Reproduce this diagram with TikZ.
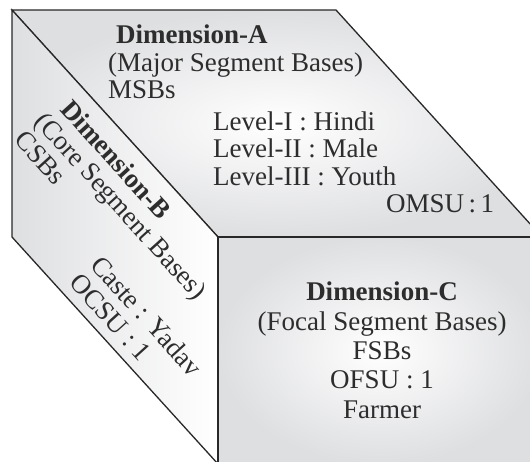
\documentclass[tikz,border=0pt]{standalone}
\usepackage{fontspec}
\setmainfont{Liberation Serif}
\definecolor{edgeink}{RGB}{40,40,40}
\definecolor{textink}{RGB}{45,45,45}
\definecolor{facegray}{RGB}{222,223,225}

\begin{document}
\begin{tikzpicture}[x=1pt,y=-1pt,
 face/.style={draw=edgeink,line width=1.3pt,line join=miter},
 txt/.style={anchor=base west,inner sep=0pt,text=textink,font=\fontsize{27}{28}\selectfont},
 ttl/.style={txt,font=\fontsize{27}{28}\selectfont\bfseries},
 mid/.style={txt,anchor=base},
 midttl/.style={ttl,anchor=base},
 slant/.style={txt,rotate=-47.8},
 slantttl/.style={ttl,rotate=-47.8}]
\useasboundingbox (0,0) rectangle (530,461);
\clip (0,0) rectangle (530,461);
% cube corners
\coordinate (backtl) at (12,10);
\coordinate (backtr) at (336,10);
\coordinate (front) at (218,237);
\coordinate (fronttr) at (542,237);
\coordinate (backbl) at (12,237);
\coordinate (frontbl) at (218,464);
\coordinate (frontbr) at (542,464);
% faces
\shadedraw[face,inner color=white,outer color=facegray] (backtl)--(backtr)--(fronttr)--(front)--cycle;
\shadedraw[face,left color=facegray,right color=white] (backtl)--(front)--(frontbl)--(backbl)--cycle;
\shadedraw[face,inner color=white,outer color=facegray] (front)--(fronttr)--(frontbr)--(frontbl)--cycle;
% Dimension-A
\node[ttl] (dima) at (116,43) {Dimension-A};
\node[txt] (dimaname) at (108,71) {(Major Segment Bases)};
\node[txt] (msb) at (108,98.5) {MSBs};
\node[txt] (lvone) at (213,130) {Level-I : Hindi};
\node[txt] (lvtwo) at (213,157.5) {Level-II : Male};
\node[txt] (lvthree) at (213,185) {Level-III : Youth};
\node[txt] (omsu) at (386,212.5) {OMSU\,:\,1};
% Dimension-B
\node[slantttl] (dimb) at (59.1,109.9) {Dimension-B};
\node[slant] (dimbname) at (33.3,122.3) {(Core Segment Bases)};
\node[slant] (csb) at (12.9,140.8) {CSBs};
\node[slant] (caste) at (89.3,266) {Caste : Yadav};
\node[slant] (ocsu) at (68.3,283.8) {OCSU : 1};
% Dimension-C
\node[midttl] (dimc) at (382,300) {Dimension-C};
\node[mid] (dimcname) at (382,330) {(Focal Segment Bases)};
\node[mid] (fsb) at (382,359) {FSBs};
\node[mid] (ofsu) at (382,388.5) {OFSU : 1};
\node[mid] (farmer) at (382,418) {Farmer};
\end{tikzpicture}
\end{document}
